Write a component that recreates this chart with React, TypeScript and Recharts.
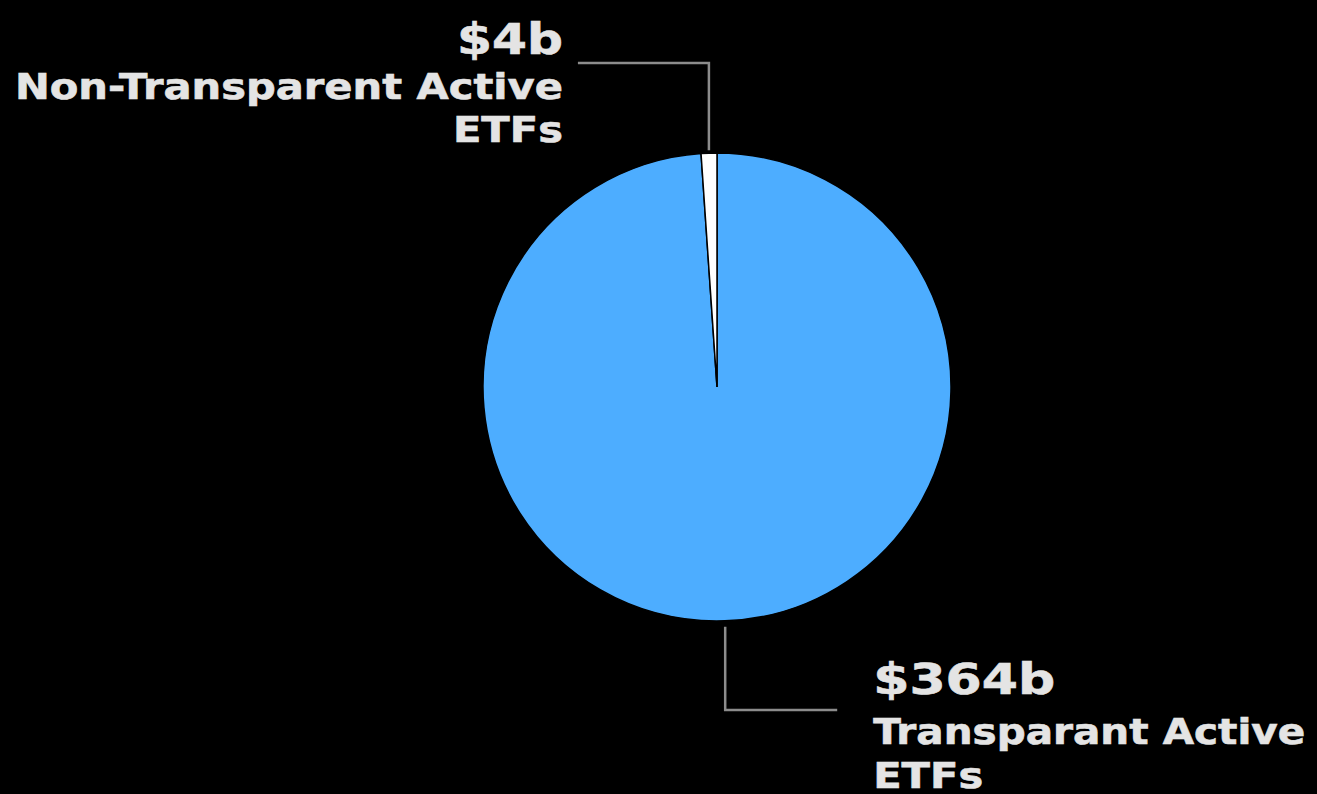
import { Cell, Pie, PieChart } from 'recharts';

const categories = ['Transparant Active ETFs', 'Non-Transparent Active ETFs'];
const values = [364, 4];
const labelRows = [
  ['Transparant Active', 'ETFs'],
  ['Non-Transparent Active', 'ETFs'],
];
const colors = ['#4dadff', '#ffffff'];

const data = categories.map((name, i) => ({ name, value: values[i] }));

const RADIAN = Math.PI / 180;
const textColor = '#e4e4e4';
const lineColor = '#8c8c8c';
const fontFamily = '"DejaVu Sans", Verdana, sans-serif';

// the source font is wider than DejaVu, so stretch each line to its measured width
const widthOf: Record<string, number> = {
  '$364b': 182,
  '$4b': 106,
  'Transparant Active': 432,
  'Non-Transparent Active': 548,
  ETFs: 110,
};

const baseText = {
  fill: textColor,
  stroke: textColor,
  strokeWidth: 0.6,
  fontFamily,
  fontWeight: 'bold' as const,
  lengthAdjust: 'spacingAndGlyphs',
};

function Line({ x, y, text, size, anchor }: { x: number; y: number; text: string; size: number; anchor?: 'end' }) {
  return (
    <text x={x} y={y} textAnchor={anchor} fontSize={size} textLength={widthOf[text]} {...baseText}>
      {text}
    </text>
  );
}

function SliceLabel(props: any) {
  const { cx, cy, midAngle, outerRadius, index, value } = props;
  const cos = Math.cos(-midAngle * RADIAN);
  const sin = Math.sin(-midAngle * RADIAN);
  const rows = labelRows[index];

  if (index === 0) {
    // bottom label, to the right
    const sx = cx + (outerRadius + 6) * cos;
    const sy = cy + (outerRadius + 6) * sin;
    const ey = cy + 323;
    const ex = sx + 112;
    const tx = sx + 148;
    return (
      <g>
        <path d={`M${sx},${sy}V${ey}H${ex}`} stroke={lineColor} strokeWidth={2.5} fill="none" />
        <Line x={tx} y={cy + 307} text={`$${value}b`} size={43} />
        <Line x={tx} y={cy + 357} text={rows[0]} size={35} />
        <Line x={tx} y={cy + 401} text={rows[1]} size={35} />
      </g>
    );
  }

  // top label, to the left
  const sx = cx + (outerRadius + 3) * cos;
  const sy = cy + (outerRadius + 3) * sin;
  const ey = cy - 324;
  const ex = sx - 131;
  const tx = sx - 146;
  return (
    <g>
      <path d={`M${sx},${sy}V${ey}H${ex}`} stroke={lineColor} strokeWidth={2.5} fill="none" />
      <Line x={tx} y={cy - 333} text={`$${value}b`} size={43} anchor="end" />
      <Line x={tx} y={cy - 288} text={rows[0]} size={35} anchor="end" />
      <Line x={tx} y={cy - 245} text={rows[1]} size={35} anchor="end" />
    </g>
  );
}

export default function App() {
  return (
    <div style={{ position: 'fixed', left: 0, top: 0, width: 1317, height: 794, background: '#000000' }}>
      <PieChart width={1317} height={794} margin={{ top: 0, right: 0, bottom: 0, left: 0 }}>
        <Pie
          data={data}
          dataKey="value"
          nameKey="name"
          cx={717}
          cy={387}
          outerRadius={234}
          startAngle={90}
          endAngle={-270}
          stroke="#000000"
          strokeWidth={1.5}
          label={SliceLabel}
          labelLine={false}
          isAnimationActive={false}
        >
          {data.map((entry, i) => (
            <Cell key={entry.name} fill={colors[i]} />
          ))}
        </Pie>
      </PieChart>
    </div>
  );
}
